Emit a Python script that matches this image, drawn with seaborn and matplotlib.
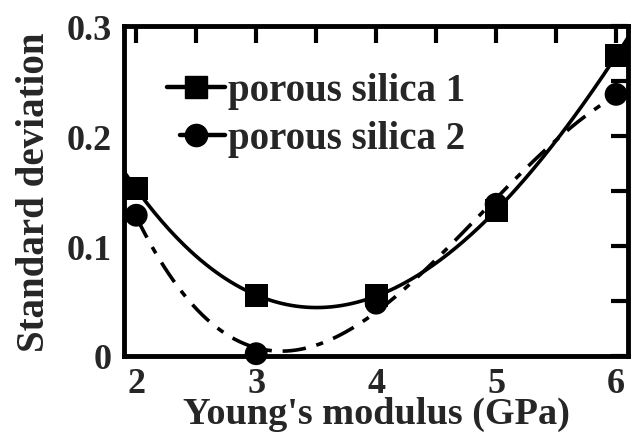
import numpy as np
import pandas as pd
import matplotlib
matplotlib.use("Agg")
import matplotlib.pyplot as plt
import seaborn as sns
from matplotlib.lines import Line2D
from matplotlib.legend_handler import HandlerLine2D
from matplotlib.ticker import MultipleLocator, FixedLocator, FuncFormatter

sns.set_theme(style="white")
plt.rcParams['font.family'] = ['Liberation Serif', 'DejaVu Serif']
plt.rcParams['font.weight'] = 'bold'

modulus = [2, 3, 4, 5, 6]
silica1 = [0.152, 0.055, 0.055, 0.132, 0.273]
silica2 = [0.128, 0.002, 0.048, 0.138, 0.238]
series_names = ["porous silica 1", "porous silica 2"]
x_ticks = [2, 3, 4, 5, 6]
y_ticks = [0, 0.1, 0.2, 0.3]

df = pd.DataFrame({"x": modulus * 2,
                   "y": silica1 + silica2,
                   "s": [series_names[0]] * 5 + [series_names[1]] * 5})

# smooth fit curves derived from the data
c1 = np.polyfit(modulus, silica1, 3)
c2 = np.polyfit(modulus, silica2, 3)
xf1 = np.linspace(1.9, 6.1, 200)
xf2 = np.linspace(2.0, 5.9, 200)
fit1 = pd.DataFrame({"x": xf1, "y": np.polyval(c1, xf1)})
fit2 = pd.DataFrame({"x": xf2, "y": np.polyval(c2, xf2)})

fig = plt.figure(figsize=(6.37, 4.39), dpi=100)
ax = fig.add_axes([0.195, 0.187, 0.791, 0.751])

lw = 2.6
sns.lineplot(data=fit1, x="x", y="y", ax=ax, color="black", lw=lw, sort=False)
sns.lineplot(data=fit2, x="x", y="y", ax=ax, color="black", lw=lw, sort=False)
ax.lines[-1].set_dashes([6.5, 3, 2, 3])

sns.scatterplot(data=df, x="x", y="y", style="s",
                markers={series_names[0]: "s", series_names[1]: "o"},
                s=270, color="black", edgecolor="black", linewidth=0, ax=ax, legend=False,
                clip_on=False, zorder=5)

ax.set_xlim(1.9, 6.1)
ax.set_ylim(0, 0.3)
ax.xaxis.set_major_locator(FixedLocator(x_ticks))
ax.xaxis.set_minor_locator(MultipleLocator(0.5))
ax.yaxis.set_major_locator(FixedLocator(y_ticks))
ax.yaxis.set_minor_locator(MultipleLocator(0.05))
ax.yaxis.set_major_formatter(FuncFormatter(lambda v, p: "0" if v == 0 else f"{v:.1f}"))
ax.tick_params(which="both", direction="in", length=12, width=3, top=True, right=True,
               labelsize=26, color="black")
ax.tick_params(axis="x", which="both", pad=8)
ax.tick_params(axis="y", which="both", pad=9)
for sp in ax.spines.values():
    sp.set_linewidth(3.5)
    sp.set_color("black")

ax.set_xlabel("Young's modulus (GPa)", fontsize=27.5, fontweight="bold", labelpad=-3)
ax.set_ylabel("Standard deviation", fontsize=28, fontweight="bold", labelpad=10)


class ShortLeft(HandlerLine2D):
    def __init__(self, frac, **kw):
        super().__init__(**kw)
        self.frac = frac

    def create_artists(self, legend, orig_handle, xdescent, ydescent, width, height,
                       fontsize, trans):
        arts = super().create_artists(legend, orig_handle, xdescent, ydescent, width,
                                      height, fontsize, trans)
        for a in arts:
            xd = np.array(a.get_xdata(), dtype=float)
            if len(xd) >= 2:
                xd[0] = xd[0] + self.frac * width
                a.set_xdata(xd)
        return arts


h1 = Line2D([], [], color="black", lw=3.2, marker="s", markersize=16)
h2 = Line2D([], [], color="black", lw=3.2, marker="o", markersize=16)
leg = ax.legend([h1, h2], series_names, loc="upper left",
                bbox_to_anchor=(0.085, 0.86), frameon=False, fontsize=28,
                handlelength=1.5, handletextpad=0.08, labelspacing=0.28,
                borderaxespad=0, borderpad=0,
                handler_map={h2: ShortLeft(0.22)})
for t in leg.get_texts():
    t.set_fontweight("bold")

fig.savefig("out.png", dpi=100)
